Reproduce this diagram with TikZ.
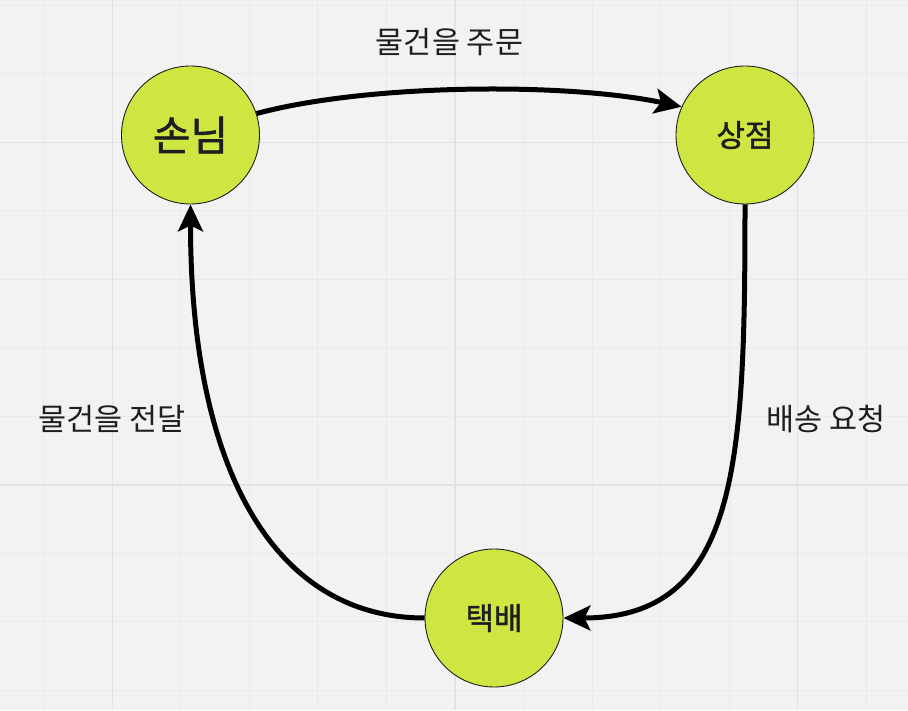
\documentclass[tikz,border=0pt]{standalone}
\usepackage{fontspec}
\setmainfont{Noto Sans CJK KR}
\newfontfamily\krmed[FakeBold=1.4]{Noto Sans CJK KR}
\usepackage{xcolor}
\usepackage{tikz}
\usetikzlibrary{arrows.meta,positioning}
\definecolor{canvas}{HTML}{F2F2F2}
\definecolor{gridminor}{HTML}{EAEAEA}
\definecolor{gridmajor}{HTML}{E2E2E2}
\definecolor{lime}{HTML}{CFE642}
\definecolor{ink}{HTML}{1E1E1E}
\tikzset{
  partybox/.style={
    circle, draw=ink, fill=lime, line width=0.9pt,
    minimum size=138pt, inner sep=0pt,
    font=\krmed\fontsize{#1}{#1}\selectfont, text=ink
  },
  partybox/.default=31,
  flowarrow/.style={
    -{Stealth[length=27pt, width=25pt, inset=6pt]}, line width=5pt, color=black
  },
  flowlabel/.style={
    font=\fontsize{30.5}{33}\selectfont, text=ink, inner sep=0pt
  },
}

\begin{document}
\begin{tikzpicture}[x=1pt, y=1pt]
\useasboundingbox (0,0) rectangle (908,710);
\fill[canvas] (0,0) rectangle (908,710);
% background grid
\foreach \gx in {0,...,12}
  \draw[gridminor, line width=1pt] ({43.7+68.55*\gx},0) -- ({43.7+68.55*\gx},710);
\foreach \gy in {0,...,10}
  \draw[gridminor, line width=1pt] (0,{704.5-68.5*\gy}) -- (908,{704.5-68.5*\gy});
\foreach \gx in {112.3,455,797.5}
  \draw[gridmajor, line width=1.6pt] (\gx,0) -- (\gx,710);
\foreach \gy in {567.5,225}
  \draw[gridmajor, line width=1.6pt] (0,\gy) -- (908,\gy);

% parties
\node[partybox=41] (customer) at (190.5,575) {손님};
\node[partybox]    (shop)     at (745,575)   {상점};
\node[partybox]    (courier)  at (494,92)    {택배};

% flows
\draw[flowarrow] (customer.18) to[out=15, in=168, looseness=0.7] (shop.156);
\draw[flowarrow] (shop.south) .. controls +(0,-260) and +(175,0) .. (courier.east);
\draw[flowarrow] (courier.west) .. controls +(-145,0) and +(0,-274) .. (customer.south);

% labels
\node[flowlabel] (orderlbl)   at (449.5,668) {물건을 주문};
\node[flowlabel] (handlbl)    at (112,291)   {물건을 전달};
\node[flowlabel] (requestlbl) at (826,290.5) {배송 요청};
\end{tikzpicture}
\end{document}
